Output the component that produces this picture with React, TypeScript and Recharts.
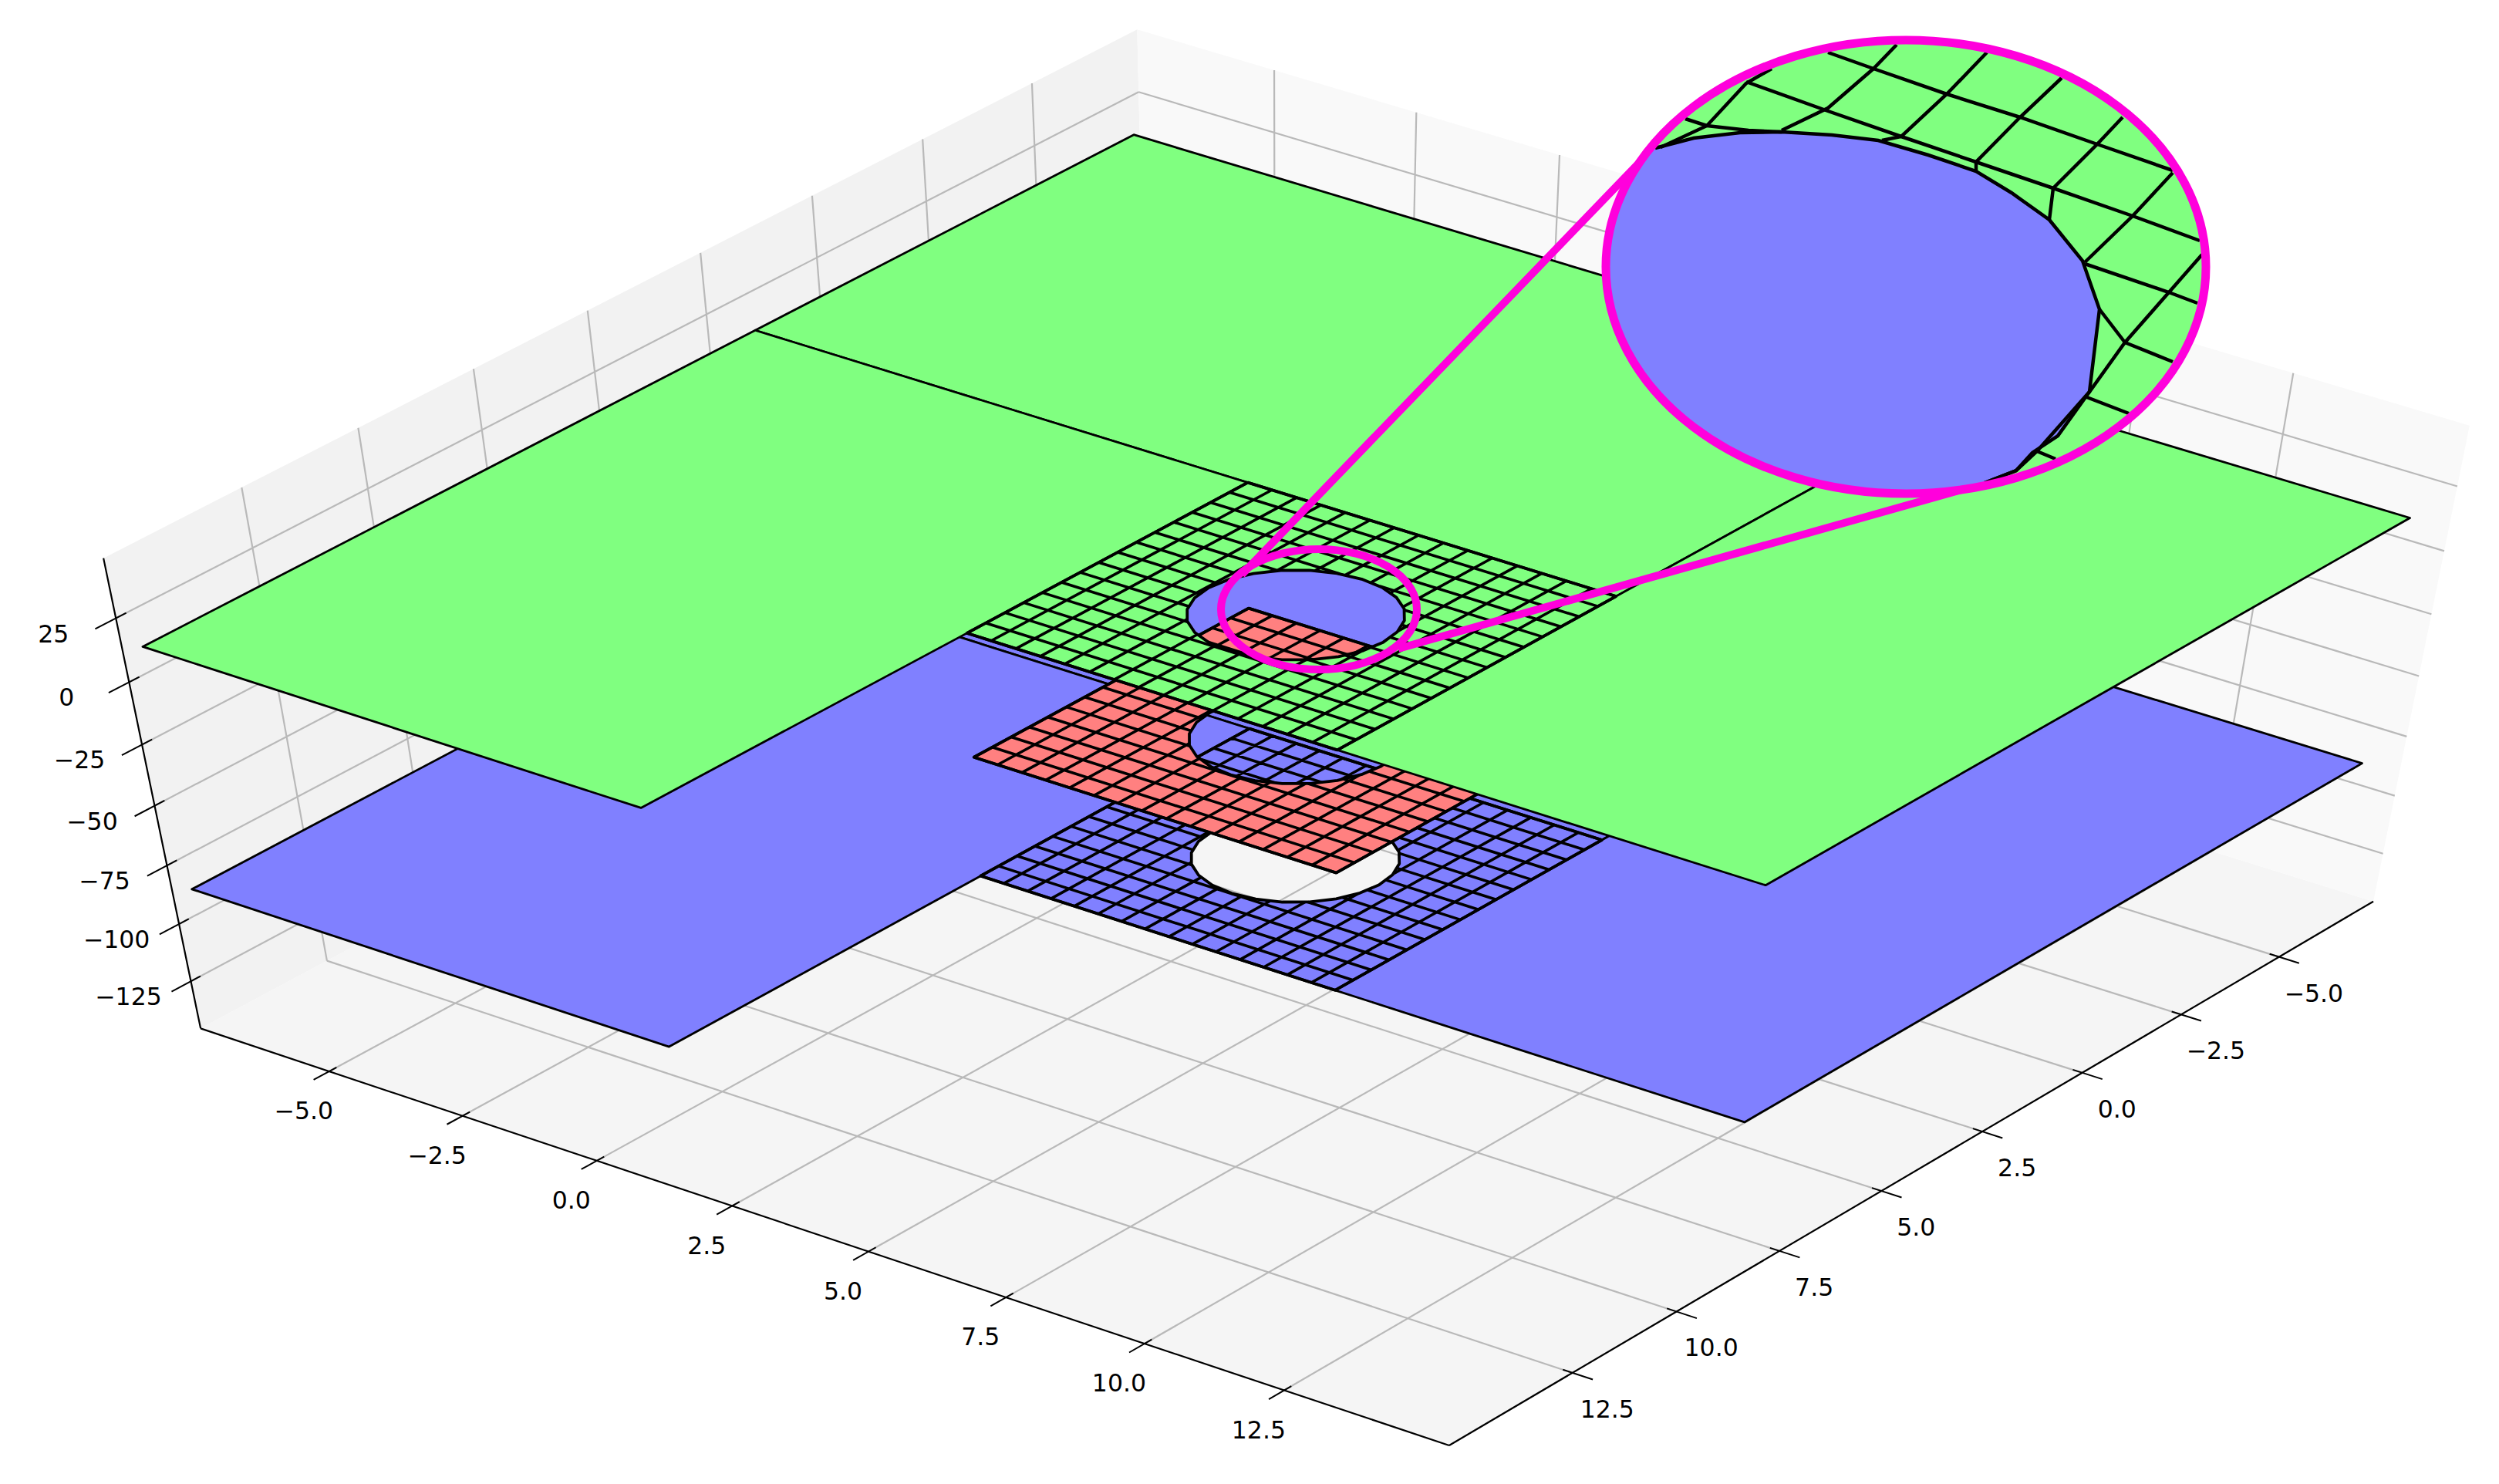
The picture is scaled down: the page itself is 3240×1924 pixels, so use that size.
import { Scatter, ScatterChart, XAxis, YAxis } from "recharts";

const WIDTH = 3240;
const HEIGHT = 1924;

// axis limits and ticks
const XY_MIN = -7.43;
const XY_MAX = 15.43;
const Z_MIN = -146;
const Z_MAX = 48;
const XY_TICKS = [-5, -2.5, 0, 2.5, 5, 7.5, 10, 12.5];
const XY_LABELS = ["−5.0", "−2.5", "0.0", "2.5", "5.0", "7.5", "10.0", "12.5"];
const Z_TICKS = [25, 0, -25, -50, -75, -100, -125];
const Z_LABELS = ["25", "0", "−25", "−50", "−75", "−100", "−125"];

// the three plate levels
const GREEN_Z = 14;
const RED_Z = -35.5;
const BLUE_Z = -85;

// plate outline and the refined block in the middle
const PLATE_X = [-7.2, 15.03];
const PLATE_Y = [-7.0, 15.26];
const MESH_X = [1.5, 1.92, 2.35, 2.77, 3.19, 3.62, 4.04, 4.46, 4.89, 5.31, 5.73, 6.16, 6.58, 7.0, 7.43, 7.85];
const MESH_Y = [1.75, 2.17, 2.6, 3.02, 3.44, 3.87, 4.29, 4.71, 5.14, 5.56, 5.98, 6.41, 6.83, 7.25, 7.68, 8.1];

// hole outline, around its centre
const HOLE_CENTER = [4.72, 4.9];
const HOLE_RADIUS = 1.5;
const HOLE_DX = [1.5, 1.449, 1.299, 1.061, 0.75, 0.388, 0, -0.388, -0.75, -1.061, -1.299, -1.449, -1.5, -1.449, -1.299, -1.061, -0.75, -0.388, 0, 0.388, 0.75, 1.061, 1.299, 1.449];
const HOLE_DY = [0, 0.388, 0.75, 1.061, 1.299, 1.449, 1.5, 1.449, 1.299, 1.061, 0.75, 0.388, 0, -0.388, -0.75, -1.061, -1.299, -1.449, -1.5, -1.449, -1.299, -1.061, -0.75, -0.388];

// magnifier, read in picture pixels
const SMALL_RING = [[1710, 790], [1837, 790], [1710, 868]];
const BIG_RING = [[2471, 346], [2860, 346], [2471, 640]];
const CONNECTOR_TOP = [[2160, 175], [1610, 745]];
const CONNECTOR_BOTTOM = [[2600, 619], [1813, 841]];
const INSET_HOLE = [
  [2146, 192], [2196, 179], [2256, 172], [2310, 171], [2375, 175], [2435, 182], [2500, 201], [2562, 222], [2608, 250],
  [2657, 285], [2700, 338], [2722, 401], [2717, 442], [2709, 508], [2668, 565], [2635, 587], [2614, 610], [2573, 626],
  [2500, 720], [2040, 720], [2040, 130],
];
const INSET_LINES = [
  [[2370, 68], [2429, 89], [2524, 122], [2619, 152], [2719, 187], [2817, 221]],
  [[2264, 106], [2370, 144], [2465, 177], [2562, 210], [2662, 244], [2765, 280], [2852, 312]],
  [[2185, 154], [2213, 163]],
  [[2703, 342], [2812, 379], [2849, 393]],
  [[2755, 444], [2817, 469]],
  [[2703, 514], [2760, 536]],
  [[2641, 585], [2665, 595]],
  [[2297, 89], [2264, 108], [2213, 163], [2153, 191]],
  [[2459, 58], [2429, 89], [2370, 140], [2310, 169]],
  [[2576, 68], [2524, 122], [2465, 177], [2440, 182]],
  [[2673, 101], [2619, 152], [2562, 210], [2562, 222]],
  [[2752, 152], [2719, 187], [2662, 244], [2657, 285]],
  [[2817, 224], [2765, 280], [2703, 340]],
  [[2855, 330], [2812, 379], [2755, 444], [2709, 508], [2641, 585], [2614, 610], [2573, 626]],
  [[2213, 163], [2267, 169], [2310, 171]],
  [[2722, 401], [2755, 444]],
];

const GREEN = "#80ff80";
const RED = "#ff8080";
const BLUE = "#8080ff";
const MAGENTA = "#ff00dc";

// camera fitted to the reference box (x/10, y/10, z/100, result in 1000s of px)
const CAMERA = [
  0.70963102, -0.5925998, -0.073720213, 1.605573, 0.21729183, 0.28655095, -0.36013724, 0.58562571,
  -0.015810421, -0.020886878, -0.044228352,
];

function project(x: number, y: number, z: number) {
  const [X, Y, Z] = [x / 10, y / 10, z / 100];
  const c = CAMERA;
  const w = c[8] * X + c[9] * Y + c[10] * Z + 1;
  return {
    px: (1000 * (c[0] * X + c[1] * Y + c[2] * Z + c[3])) / w,
    py: (1000 * (c[4] * X + c[5] * Y + c[6] * Z + c[7])) / w,
  };
}

const pixels = (list: number[][]) => list.map(([px, py]) => ({ px, py }));
const ringAt = (z: number, corners: number[][]) => corners.map(([x, y]) => project(x, y, z));

const NoDot = () => null;

type Pt = { x: number; y: number };

function pairsPath(stroke: string, width: number) {
  return (p: { points: Pt[] }) => {
    let d = "";
    for (let i = 0; i + 1 < p.points.length; i += 2) {
      d += `M${p.points[i].x} ${p.points[i].y}L${p.points[i + 1].x} ${p.points[i + 1].y}`;
    }
    return <path d={d} stroke={stroke} strokeWidth={width} fill="none" />;
  };
}

// outerCount vertices make the outline, the rest cut a hole in it
function polygonPath(fill: string, stroke: string, width: number, outerCount: number) {
  return (p: { points: Pt[] }) => {
    const toD = (pts: Pt[]) => (pts.length ? `M${pts.map((q) => `${q.x} ${q.y}`).join("L")}Z` : "");
    const d = toD(p.points.slice(0, outerCount)) + toD(p.points.slice(outerCount));
    return <path d={d} fill={fill} fillRule="evenodd" stroke={stroke} strokeWidth={width} strokeLinejoin="round" />;
  };
}

function ellipseFrom(points: Pt[]) {
  const [c, r, b] = points;
  return { cx: c.x, cy: c.y, rx: r.x - c.x, ry: b.y - c.y };
}

function meshSegments(z: number) {
  const out: { px: number; py: number }[] = [];
  const [cx, cy] = HOLE_CENTER;
  const yLo = MESH_Y[0];
  const yHi = MESH_Y[MESH_Y.length - 1];
  const xLo = MESH_X[0];
  const xHi = MESH_X[MESH_X.length - 1];
  for (const x of MESH_X) {
    const d = x - cx;
    if (Math.abs(d) < HOLE_RADIUS) {
      const h = Math.sqrt(HOLE_RADIUS * HOLE_RADIUS - d * d);
      out.push(project(x, yLo, z), project(x, cy - h, z), project(x, cy + h, z), project(x, yHi, z));
    } else {
      out.push(project(x, yLo, z), project(x, yHi, z));
    }
  }
  for (const y of MESH_Y) {
    const d = y - cy;
    if (Math.abs(d) < HOLE_RADIUS) {
      const h = Math.sqrt(HOLE_RADIUS * HOLE_RADIUS - d * d);
      out.push(project(xLo, y, z), project(cx - h, y, z), project(cx + h, y, z), project(xHi, y, z));
    } else {
      out.push(project(xLo, y, z), project(xHi, y, z));
    }
  }
  return out;
}

function meshOutline(z: number) {
  const xLo = MESH_X[0];
  const xHi = MESH_X[MESH_X.length - 1];
  const yLo = MESH_Y[0];
  const yHi = MESH_Y[MESH_Y.length - 1];
  const hole = HOLE_DX.map((dx, i) => [HOLE_CENTER[0] + dx, HOLE_CENTER[1] + HOLE_DY[i]]);
  return ringAt(z, [[xLo, yLo], [xHi, yLo], [xHi, yHi], [xLo, yHi], ...hole]);
}

function Plate({ z, fill, patches }: { z: number; fill: string; patches: boolean }) {
  const [ax, bx] = PLATE_X;
  const [ay, by] = PLATE_Y;
  const x1 = MESH_X[0];
  const x2 = MESH_X[MESH_X.length - 1];
  const y1 = MESH_Y[0];
  const y2 = MESH_Y[MESH_Y.length - 1];
  const parts = patches
    ? [
        [[ax, ay], [x2, ay], [x2, y1], [ax, y1]],
        [[ax, y1], [x1, y1], [x1, by], [ax, by]],
        [[x2, ay], [bx, ay], [bx, y2], [x2, y2]],
      ]
    : [];
  return (
    <>
      {parts.map((corners, i) => (
        <Scatter
          key={i}
          data={ringAt(z, corners)}
          shape={NoDot}
          line={polygonPath(fill, "#000", 2.8, 4)}
          isAnimationActive={false}
        />
      ))}
      <Scatter data={meshOutline(z)} shape={NoDot} line={polygonPath(fill, "#000", 3.8, 4)} isAnimationActive={false} />
      <Scatter data={meshSegments(z)} shape={NoDot} line={pairsPath("#000", 3.6)} isAnimationActive={false} />
    </>
  );
}

const gridPoints = XY_TICKS.flatMap((t) => [
  project(t, XY_MAX, Z_MIN), project(t, XY_MIN, Z_MIN),
  project(XY_MAX, t, Z_MIN), project(XY_MIN, t, Z_MIN),
  project(XY_MIN, t, Z_MIN), project(XY_MIN, t, Z_MAX),
  project(t, XY_MIN, Z_MIN), project(t, XY_MIN, Z_MAX),
]).concat(
  Z_TICKS.flatMap((t) => [
    project(XY_MIN, XY_MAX, t), project(XY_MIN, XY_MIN, t),
    project(XY_MAX, XY_MIN, t), project(XY_MIN, XY_MIN, t),
  ]),
);

const axisPoints = [
  project(XY_MIN, XY_MAX, Z_MAX), project(XY_MIN, XY_MAX, Z_MIN),
  project(XY_MIN, XY_MAX, Z_MIN), project(XY_MAX, XY_MAX, Z_MIN),
  project(XY_MAX, XY_MAX, Z_MIN), project(XY_MAX, XY_MIN, Z_MIN),
];

const tickPoints = XY_TICKS.flatMap((t) => [
  project(t, XY_MAX - 0.17, Z_MIN), project(t, XY_MAX + 0.36, Z_MIN),
  project(XY_MAX - 0.17, t, Z_MIN), project(XY_MAX + 0.36, t, Z_MIN),
]).concat(Z_TICKS.flatMap((t) => [project(XY_MIN, XY_MAX - 0.22, t), project(XY_MIN, XY_MAX + 0.44, t)]));

const xLabels = XY_TICKS.map((t, i) => ({ ...project(t, XY_MAX, Z_MIN), text: XY_LABELS[i] }));
const yLabels = XY_TICKS.map((t, i) => ({ ...project(XY_MAX, t, Z_MIN), text: XY_LABELS[i] }));
const zLabels = Z_TICKS.map((t, i) => ({ ...project(XY_MIN, XY_MAX, t), text: Z_LABELS[i] }));

function labelShape(dx: number, dy: number) {
  return (p: { cx?: number; cy?: number; payload?: { text: string } }) => (
    <text
      x={(p.cx ?? 0) + dx}
      y={(p.cy ?? 0) + dy}
      textAnchor="middle"
      dominantBaseline="central"
      fontFamily="DejaVu Sans"
      fontSize={31.5}
      fill="#000"
    >
      {p.payload?.text}
    </text>
  );
}

export default function App() {
  return (
    <div style={{ position: "absolute", left: 0, top: 0, width: WIDTH, height: HEIGHT, background: "#fff" }}>
      <ScatterChart width={WIDTH} height={HEIGHT} margin={{ top: 0, right: 0, bottom: 0, left: 0 }}>
        <XAxis hide type="number" dataKey="px" domain={[0, WIDTH]} />
        <YAxis hide type="number" dataKey="py" domain={[0, HEIGHT]} reversed />

        {/* panes */}
        <Scatter
          data={ringAt(Z_MIN, [[XY_MIN, XY_MIN], [XY_MAX, XY_MIN], [XY_MAX, XY_MAX], [XY_MIN, XY_MAX]])}
          shape={NoDot}
          line={polygonPath("#f5f5f5", "none", 0, 4)}
          isAnimationActive={false}
        />
        <Scatter
          data={[
            project(XY_MIN, XY_MIN, Z_MIN), project(XY_MIN, XY_MAX, Z_MIN),
            project(XY_MIN, XY_MAX, Z_MAX), project(XY_MIN, XY_MIN, Z_MAX),
          ]}
          shape={NoDot}
          line={polygonPath("#f2f2f2", "none", 0, 4)}
          isAnimationActive={false}
        />
        <Scatter
          data={[
            project(XY_MIN, XY_MIN, Z_MIN), project(XY_MAX, XY_MIN, Z_MIN),
            project(XY_MAX, XY_MIN, Z_MAX), project(XY_MIN, XY_MIN, Z_MAX),
          ]}
          shape={NoDot}
          line={polygonPath("#f9f9f9", "none", 0, 4)}
          isAnimationActive={false}
        />
        <Scatter data={gridPoints} shape={NoDot} line={pairsPath("#b9b9b9", 2.2)} isAnimationActive={false} />
        <Scatter data={axisPoints} shape={NoDot} line={pairsPath("#000", 2.2)} isAnimationActive={false} />
        <Scatter data={tickPoints} shape={NoDot} line={pairsPath("#000", 2)} isAnimationActive={false} />
        <Scatter data={xLabels} shape={labelShape(-33, 51)} isAnimationActive={false} />
        <Scatter data={yLabels} shape={labelShape(45, 47)} isAnimationActive={false} />
        <Scatter data={zLabels} shape={labelShape(-81, 20)} isAnimationActive={false} />

        {/* plates, lowest first */}
        {Plate({ z: BLUE_Z, fill: BLUE, patches: true })}
        {Plate({ z: RED_Z, fill: RED, patches: false })}
        {Plate({ z: GREEN_Z, fill: GREEN, patches: true })}

        {/* magnifier */}
        <Scatter
          data={pixels([...CONNECTOR_TOP, ...CONNECTOR_BOTTOM])}
          shape={NoDot}
          line={pairsPath(MAGENTA, 10)}
          isAnimationActive={false}
        />
        <Scatter
          data={pixels(SMALL_RING)}
          shape={NoDot}
          line={(p: { points: Pt[] }) => <ellipse {...ellipseFrom(p.points)} fill="none" stroke={MAGENTA} strokeWidth={10} />}
          isAnimationActive={false}
        />
        <Scatter
          data={pixels(BIG_RING)}
          shape={NoDot}
          line={(p: { points: Pt[] }) => (
            <>
              <clipPath id="inset-clip">
                <ellipse {...ellipseFrom(p.points)} />
              </clipPath>
              <ellipse {...ellipseFrom(p.points)} fill={GREEN} />
            </>
          )}
          isAnimationActive={false}
        />
        <Scatter
          data={pixels(INSET_HOLE)}
          shape={NoDot}
          line={(p: { points: Pt[] }) => (
            <path
              clipPath="url(#inset-clip)"
              d={`M${p.points.map((q) => `${q.x} ${q.y}`).join("L")}Z`}
              fill={BLUE}
              stroke="none"
            />
          )}
          isAnimationActive={false}
        />
        <Scatter
          data={pixels(INSET_HOLE.slice(0, 18))}
          shape={NoDot}
          line={(p: { points: Pt[] }) => (
            <path
              clipPath="url(#inset-clip)"
              d={`M${p.points.map((q) => `${q.x} ${q.y}`).join("L")}`}
              fill="none"
              stroke="#000"
              strokeWidth={4.5}
            />
          )}
          isAnimationActive={false}
        />
        {INSET_LINES.map((line, i) => (
          <Scatter
            key={i}
            data={pixels(line)}
            shape={NoDot}
            line={(p: { points: Pt[] }) => (
              <path
                clipPath="url(#inset-clip)"
                d={`M${p.points.map((q) => `${q.x} ${q.y}`).join("L")}`}
                fill="none"
                stroke="#000"
                strokeWidth={4.5}
              />
            )}
            isAnimationActive={false}
          />
        ))}
        <Scatter
          data={pixels(BIG_RING)}
          shape={NoDot}
          line={(p: { points: Pt[] }) => <ellipse {...ellipseFrom(p.points)} fill="none" stroke={MAGENTA} strokeWidth={11} />}
          isAnimationActive={false}
        />
      </ScatterChart>
    </div>
  );
}
